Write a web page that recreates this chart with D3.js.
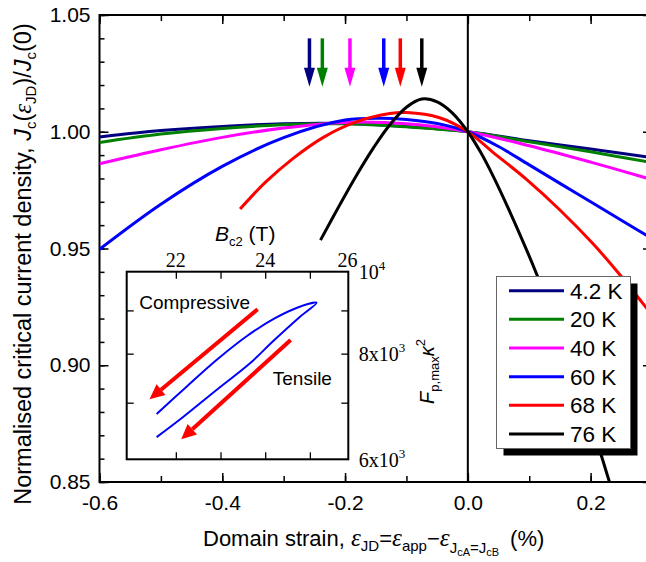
<!DOCTYPE html>
<html>
<head>
<meta charset="utf-8">
<script src="https://cdn.jsdelivr.net/npm/d3@7"></script>
<style>
  body { margin: 0; background: #fff; }
  svg { display: block; font-family: "Liberation Sans", Arial, sans-serif; }
  .axis text { font-size: 21px; fill: #000; font-family: "Liberation Sans", Arial, sans-serif; }
  .axis line { stroke: #000; stroke-width: 1.5px; }
  .axis path { display: none; }
  .inset .axis line { stroke-width: 1.3px; }
  .curve { fill: none; stroke-width: 3px; }
  .serif { font-family: "Liberation Serif", "Times New Roman", serif; }
</style>
</head>
<body>
<script>

// values
const temps = ["4.2 K", "20 K", "40 K", "60 K", "68 K", "76 K"];

const strain4K = [-0.6, -0.5, -0.4, -0.3, -0.2, -0.1, 0, 0.1, 0.2, 0.3];
const jc4K     = [0.9978, 1.0005, 1.0023, 1.0034, 1.0035, 1.0022, 1.0, 0.9962, 0.9926, 0.9889];

const strain20K = [-0.6, -0.5, -0.4, -0.3, -0.2, -0.1, 0, 0.1, 0.2, 0.3];
const jc20K     = [0.9954, 0.9990, 1.0014, 1.0030, 1.0034, 1.0021, 1.0, 0.9957, 0.9914, 0.9868];

const strain40K = [-0.6, -0.5, -0.4, -0.3, -0.2, -0.1, 0, 0.1, 0.2, 0.3];
const jc40K     = [0.9863, 0.9923, 0.9976, 1.0016, 1.0040, 1.0034, 1.0, 0.9940, 0.9870, 0.9795];

const strain60K = [-0.6, -0.5, -0.4, -0.3, -0.2, -0.14, -0.1, -0.05, 0, 0.05, 0.1, 0.15, 0.2, 0.25, 0.3];
const jc60K     = [0.9497, 0.9690, 0.9852, 0.9975, 1.0050, 1.0058, 1.0052, 1.0035, 1.0, 0.9937, 0.9858, 0.9779, 0.9700, 0.9621, 0.9542];

const strain68K = [-0.371, -0.33, -0.285, -0.236, -0.181, -0.127, -0.100, -0.046, 0, 0.041, 0.096, 0.150, 0.204, 0.247, 0.3];
const jc68K     = [0.9669, 0.9783, 0.9885, 0.9975, 1.0043, 1.0078, 1.0082, 1.0060, 1.0, 0.9912, 0.9795, 0.9665, 0.9520, 0.9390, 0.9215];

const strain76K = [-0.240, -0.208, -0.181, -0.154, -0.127, -0.100, -0.075, -0.050, -0.025, 0, 0.020, 0.041, 0.069, 0.096, 0.112, 0.150, 0.183, 0.216, 0.228, 0.236];
const jc76K     = [0.9536, 0.9690, 0.9815, 0.9930, 1.0030, 1.0105, 1.0140, 1.0128, 1.0080, 1.0, 0.9916, 0.9811, 0.9654, 0.9492, 0.9391, 0.9133, 0.8889, 0.8625, 0.8523, 0.8455];

// arrows mark the peak of each curve
const peakStrain = [-0.258, -0.237, -0.192, -0.137, -0.110, -0.075];

// inset: Fp,max*kappa^2 vs Bc2 loop
const bc2Upper = [21.57, 22.24, 22.91, 23.6, 24.2, 24.7, 25.15];
const fpUpper  = [6788, 7312, 7863, 8400, 8800, 9060, 9190];
const bc2Lower = [25.15, 24.78, 24.18, 23.66, 22.91, 22.17, 21.57];
const fpLower  = [9190, 8847, 8280, 7793, 7247, 6738, 6374];

const xTicks = [-0.6, -0.4, -0.2, 0.0, 0.2];
const yTicks = [0.85, 0.90, 0.95, 1.00, 1.05];
const insetTopTicks = [22, 24, 26];
const insetRightTicks = [6000, 8000, 10000];
const insetRightLabels = [["6x10", "3"], ["8x10", "3"], ["10", "4"]];

const colors = ["#000080", "#008000", "#ff00ff", "#0000ff", "#ff0000", "#000000"];

var curves = [
  [strain4K, jc4K], [strain20K, jc20K], [strain40K, jc40K],
  [strain60K, jc60K], [strain68K, jc68K], [strain76K, jc76K]
].map(([xs, ys], i) => ({
  name: temps[i], color: colors[i],
  pts: xs.map((v, j) => [v, ys[j]])
}));

var width = 646, height = 562;
var pL = 99.5, pR = 652, pT = 15, pB = 482;

var svg = d3.select("body").append("svg")
    .attr("width", width)
    .attr("height", height);

var x = d3.scaleLinear().domain([-0.6, 0.3]).range([pL, pR]);
var y = d3.scaleLinear().domain([0.85, 1.05]).range([pB, pT]);

svg.append("clipPath").attr("id", "plotclip")
  .append("rect").attr("x", pL).attr("y", pT)
  .attr("width", pR - pL).attr("height", pB - pT);

// minor ticks
svg.append("g").attr("class", "axis").attr("transform", `translate(${pL},0)`)
  .call(d3.axisLeft(y).tickValues(d3.range(0.85, 1.0501, 0.01)).tickSize(-5).tickFormat(""));
svg.append("g").attr("class", "axis").attr("transform", `translate(${pR},0)`)
  .call(d3.axisRight(y).tickValues(d3.range(0.85, 1.0501, 0.01)).tickSize(-5).tickFormat(""));
svg.append("g").attr("class", "axis").attr("transform", `translate(0,${pB})`)
  .call(d3.axisBottom(x).tickValues(d3.range(-0.6, 0.301, 0.1)).tickSize(-6).tickFormat(""));
svg.append("g").attr("class", "axis").attr("transform", `translate(0,${pT})`)
  .call(d3.axisTop(x).tickValues(d3.range(-0.6, 0.301, 0.1)).tickSize(-6).tickFormat(""));

// major ticks
svg.append("g").attr("class", "axis").attr("transform", `translate(${pL},0)`)
  .call(d3.axisLeft(y).tickValues(yTicks).tickSize(-9).tickPadding(9).tickFormat(d3.format(".2f")));
svg.append("g").attr("class", "axis").attr("transform", `translate(${pR},0)`)
  .call(d3.axisRight(y).tickValues(yTicks).tickSize(-9).tickFormat(""));
svg.append("g").attr("class", "axis").attr("transform", `translate(0,${pB})`)
  .call(d3.axisBottom(x).tickValues(xTicks).tickSize(-9).tickPadding(13)
    .tickFormat(d => d3.format(".1f")(d).replace("\u2212", "-")));
svg.append("g").attr("class", "axis").attr("transform", `translate(0,${pT})`)
  .call(d3.axisTop(x).tickValues(xTicks).tickSize(-9).tickFormat(""));

// frame
svg.append("rect")
  .attr("x", pL).attr("y", pT)
  .attr("width", pR - pL).attr("height", pB - pT)
  .attr("fill", "none").attr("stroke", "#000").attr("stroke-width", 2);

// zero line
svg.append("line")
  .attr("x1", x(0)).attr("x2", x(0)).attr("y1", pT).attr("y2", pB)
  .attr("stroke", "#000").attr("stroke-width", 2);

// curves
var line = d3.line().x(d => x(d[0])).y(d => y(d[1])).curve(d3.curveCatmullRom.alpha(0.5));
svg.append("g").attr("clip-path", "url(#plotclip)")
  .selectAll("path").data(curves).enter().append("path")
  .attr("class", "curve")
  .attr("stroke", d => d.color)
  .attr("d", d => line(d.pts));

// peak arrows
var arrows = svg.append("g");
peakStrain.forEach((p, i) => {
  var cx = x(p), y0 = y(1.040), y1 = y(1.0193);
  arrows.append("line")
    .attr("x1", cx).attr("x2", cx).attr("y1", y0).attr("y2", y1 - 14)
    .attr("stroke", colors[i]).attr("stroke-width", 3.5);
  arrows.append("path")
    .attr("d", `M${cx - 5.5},${y1 - 19} L${cx + 5.5},${y1 - 19} L${cx},${y1} Z`)
    .attr("fill", colors[i]);
});

// axis titles
var yl = svg.append("text")
  .attr("transform", "translate(31,264) rotate(-90)")
  .attr("text-anchor", "middle")
  .attr("font-size", 23.5);
yl.append("tspan").text("Normalised critical current density, ");
yl.append("tspan").attr("font-style", "italic").text("J");
yl.append("tspan").attr("font-size", 15).attr("dy", 5).text("c");
yl.append("tspan").attr("dy", -5).text("(");
yl.append("tspan").attr("class", "serif").attr("font-style", "italic").attr("font-size", 25).text("\u03b5");
yl.append("tspan").attr("font-size", 15).attr("dy", 5).text("JD");
yl.append("tspan").attr("dy", -5).text(")/");
yl.append("tspan").attr("font-style", "italic").text("J");
yl.append("tspan").attr("font-size", 15).attr("dy", 5).text("c");
yl.append("tspan").attr("dy", -5).text("(0)");

var xl = svg.append("text")
  .attr("x", 203).attr("y", 546)
  .attr("font-size", 22);
xl.append("tspan").text("Domain strain, ");
xl.append("tspan").attr("class", "serif").attr("font-style", "italic").attr("font-size", 25).text("\u03b5");
xl.append("tspan").attr("font-size", 15).attr("dy", 5).text("JD");
xl.append("tspan").attr("dy", -5).text("=");
xl.append("tspan").attr("class", "serif").attr("font-style", "italic").attr("font-size", 25).text("\u03b5");
xl.append("tspan").attr("font-size", 15).attr("dy", 5).text("app");
xl.append("tspan").attr("dy", -5).text("\u2212");
xl.append("tspan").attr("class", "serif").attr("font-style", "italic").attr("font-size", 25).text("\u03b5");
xl.append("tspan").attr("font-size", 15).attr("dy", 7).text("J");
xl.append("tspan").attr("font-size", 11).attr("dy", 3).text("cA");
xl.append("tspan").attr("font-size", 15).attr("dy", -3).text("=J");
xl.append("tspan").attr("font-size", 11).attr("dy", 3).text("cB");
xl.append("tspan").attr("dy", -10).text("\u2002(%)");

// legend
var lg = svg.append("g");
lg.append("rect").attr("x", 503.5).attr("y", 283.5).attr("width", 134).attr("height", 172).attr("fill", "#000");
lg.append("rect").attr("x", 496.5).attr("y", 276.5).attr("width", 134).attr("height", 172)
  .attr("fill", "#fff").attr("stroke", "#666").attr("stroke-width", 1);
curves.forEach((c, i) => {
  var ly = 290.7 + i * 28.65;
  lg.append("line").attr("x1", 509).attr("x2", 564).attr("y1", ly).attr("y2", ly)
    .attr("stroke", c.color).attr("stroke-width", 3);
  lg.append("text").attr("x", 570).attr("y", ly).attr("dy", "0.36em")
    .attr("font-size", 22.5).text(c.name);
});

// inset
var il = 126.7, ir = 348.3, it = 271.7, ib = 459.3;
var xi = d3.scaleLinear().domain([20.9, 25.86]).range([il, ir]);
var yi = d3.scaleLog().domain([6000, 10000]).range([ib, it]);
var inset = svg.append("g").attr("class", "inset");

inset.append("rect").attr("x", il).attr("y", it).attr("width", ir - il).attr("height", ib - it)
  .attr("fill", "#fff");

var bcTicks = [22, 23, 24, 25];
var fpTicks = [7000, 8000, 9000];
inset.append("g").attr("class", "axis").attr("transform", `translate(0,${it})`)
  .call(d3.axisTop(xi).tickValues(bcTicks).tickSize(-7).tickFormat(""));
inset.append("g").attr("class", "axis").attr("transform", `translate(0,${ib})`)
  .call(d3.axisBottom(xi).tickValues(bcTicks).tickSize(-7).tickFormat(""));
inset.append("g").attr("class", "axis").attr("transform", `translate(${il},0)`)
  .call(d3.axisLeft(yi).tickValues(fpTicks).tickSize(-7).tickFormat(""));
inset.append("g").attr("class", "axis").attr("transform", `translate(${ir},0)`)
  .call(d3.axisRight(yi).tickValues(fpTicks).tickSize(-7).tickFormat(""));

inset.append("rect").attr("x", il).attr("y", it).attr("width", ir - il).attr("height", ib - it)
  .attr("fill", "none").attr("stroke", "#000").attr("stroke-width", 2);

insetTopTicks.forEach((t, i) => {
  var last = i === insetTopTicks.length - 1;
  inset.append("text").attr("class", "serif")
    .attr("x", last ? xi(t) + 3 : xi(t)).attr("y", it - 5)
    .attr("text-anchor", last ? "end" : "middle")
    .attr("font-size", 20).text(t);
});
insetRightTicks.forEach((t, i) => {
  var tx = inset.append("text").attr("class", "serif")
    .attr("x", ir + 10.5).attr("y", yi(t) + 7.5).attr("font-size", 20);
  tx.append("tspan").text(insetRightLabels[i][0]);
  tx.append("tspan").attr("font-size", 13).attr("dy", -9).text(insetRightLabels[i][1]);
});

var loopPts = bc2Upper.map((b, i) => [b, fpUpper[i]])
  .concat(bc2Lower.slice(1).map((b, i) => [b, fpLower[i + 1]]));
inset.append("path")
  .attr("d", d3.line().x(d => xi(d[0])).y(d => yi(d[1])).curve(d3.curveCatmullRom.alpha(0.5))(loopPts))
  .attr("fill", "none").attr("stroke", "#0000ff").attr("stroke-width", 2);

// direction arrows in inset (start Bc2, start Fp, tip Bc2, tip Fp)
var insetArrows = [[23.83, 9027, 21.41, 7065], [24.57, 8303, 22.12, 6336]];
insetArrows.forEach(a => {
  var x0 = xi(a[0]), y0 = yi(a[1]), x1 = xi(a[2]), y1 = yi(a[3]);
  var ang = Math.atan2(y1 - y0, x1 - x0), hl = 15, hw = 7;
  var bx = x1 - hl * Math.cos(ang), by = y1 - hl * Math.sin(ang);
  inset.append("line").attr("x1", x0).attr("y1", y0).attr("x2", bx).attr("y2", by)
    .attr("stroke", "#ff0000").attr("stroke-width", 4);
  inset.append("path")
    .attr("d", `M${x1},${y1} L${bx + hw * Math.sin(ang)},${by - hw * Math.cos(ang)} L${bx - hw * Math.sin(ang)},${by + hw * Math.cos(ang)} Z`)
    .attr("fill", "#ff0000");
});

inset.append("text").attr("x", xi(21.18)).attr("y", yi(9035)).attr("font-size", 19).text("Compressive");
inset.append("text").attr("x", xi(24.17)).attr("y", yi(7346)).attr("font-size", 19).text("Tensile");

var bt = inset.append("text").attr("x", 215).attr("y", 241).attr("font-size", 21);
bt.append("tspan").attr("font-style", "italic").text("B");
bt.append("tspan").attr("font-size", 13).attr("dy", 5).text("c2");
bt.append("tspan").attr("dy", -5).text(" (T)");

var ft = inset.append("text")
  .attr("transform", `translate(434,${(it + ib) / 2 + 6}) rotate(-90)`)
  .attr("text-anchor", "middle").attr("font-size", 20);
ft.append("tspan").attr("font-style", "italic").text("F");
ft.append("tspan").attr("font-size", 13).attr("dy", 5).text("p,max");
ft.append("tspan").attr("font-style", "italic").attr("dy", -5).text("\u03ba");
ft.append("tspan").attr("font-size", 13).attr("dy", -9).text("2");

</script>
</body>
</html>
